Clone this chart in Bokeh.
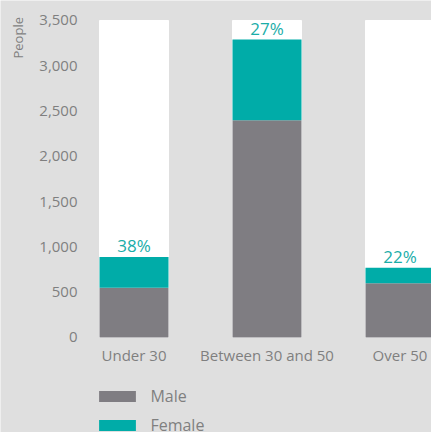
import math
from bokeh.plotting import figure
from bokeh.models import Range1d, FixedTicker, NumeralTickFormatter, Label, ColumnDataSource
from bokeh.core.properties import value
from bokeh.embed import file_html
from bokeh.resources import INLINE

categories = ["Under 30", "Between 30 and 50", "Over 50"]
male = [550, 2400, 600]
female = [340, 890, 170]
ceiling = [3500, 3500, 3500]
pct_labels = ["38%", "27%", "22%"]
y_ticks = [0, 500, 1000, 1500, 2000, 2500, 3000, 3500]

FONT = "Open Sans"
BG = "#dfdfdf"
GREY = "#7f7d82"
TEAL = "#00aca8"
TXT = "#7f7f7f"

xpos = list(range(len(categories)))
totals = [m + f for m, f in zip(male, female)]

src = ColumnDataSource(dict(x=xpos, male=male, female=female, ceiling=ceiling,
                            total=totals, pct=pct_labels))

p = figure(width=431, height=432, output_backend="svg", toolbar_location=None,
           x_range=Range1d(-1.0038, 2.2368), y_range=Range1d(-1048.9, 3720.8),
           min_border_left=0, min_border_right=0, min_border_top=0,
           min_border_bottom=0)
p.background_fill_color = BG
p.border_fill_color = BG
p.outline_line_color = None
p.xgrid.visible = False
p.ygrid.visible = False

W = 0.519
p.vbar(x="x", bottom=0, top="ceiling", width=W, source=src, color="white")
p.vbar_stack(["male", "female"], x="x", width=W, source=src,
             color=[GREY, TEAL], line_color=None,
             legend_label=["Male", "Female"])

p.text(x="x", y="total", text="pct", source=src, text_align="center",
       text_baseline="bottom", y_offset=0, text_color="#1aada8",
       text_font=value(FONT), text_font_size="17px")

# axes, pinned inside the frame
p.yaxis.fixed_location = -0.3421
p.xaxis.fixed_location = 0
p.yaxis.ticker = FixedTicker(ticks=y_ticks)
p.yaxis.formatter = NumeralTickFormatter(format="0,0")
p.xaxis.ticker = FixedTicker(ticks=xpos)
p.xaxis.major_label_overrides = {i: c for i, c in zip(xpos, categories)}
for ax in (p.xaxis[0], p.yaxis[0]):
    ax.axis_line_color = None
    ax.major_tick_line_color = None
    ax.minor_tick_line_color = None
    ax.major_tick_out = 0
    ax.major_tick_in = 0
    ax.minor_tick_out = 0
    ax.major_label_text_font = FONT
    ax.major_label_text_font_size = "15px"
    ax.major_label_text_color = TXT
p.yaxis.major_label_standoff = 11
p.xaxis.major_label_standoff = 8

p.add_layout(Label(x=17.5, y=374, x_units="screen", y_units="screen",
                   text="People", angle=math.pi / 2, text_align="left",
                   text_baseline="middle", text_font=FONT,
                   text_font_size="13px", text_color=TXT))

leg = p.legend[0]
leg.location = (94.4, -4)
leg.orientation = "vertical"
leg.background_fill_alpha = 0
leg.border_line_color = None
leg.padding = 0
leg.margin = 0
leg.spacing = 7
leg.glyph_width = 46
leg.glyph_height = 14
leg.label_height = 11
leg.label_standoff = 10
leg.label_text_font = FONT
leg.label_text_font_size = "16px"
leg.label_text_color = TXT

open("out.html", "w").write(file_html(p, INLINE))
